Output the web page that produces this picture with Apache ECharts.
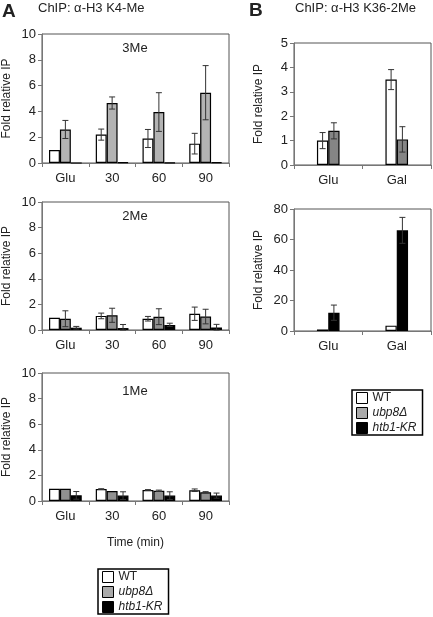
<!DOCTYPE html>
<html><head><meta charset="utf-8">
<script src="https://cdn.jsdelivr.net/npm/echarts@6/dist/echarts.min.js"></script>
<style>html,body{margin:0;padding:0;background:#fff}#c{width:433px;height:617px}</style>
</head><body><div id="c"></div>
<script>
// ---- data ----
const categoriesA = ['Glu', '30', '60', '90'];
const categoriesB = ['Glu', 'Gal'];
const seriesNames = ['WT', 'ubp8Δ', 'htb1-KR'];
const ticksA = [0, 2, 4, 6, 8, 10];
const ticksBTop = [0, 1, 2, 3, 4, 5];
const ticksBBottom = [0, 20, 40, 60, 80];

const me3WT = [1.0, 2.2, 1.9, 1.5];
const me3WTErr = [0, 0.43, 0.7, 0.8];
const me3Ubp8 = [2.6, 4.65, 3.95, 5.45];
const me3Ubp8Err = [0.7, 0.47, 1.5, 2.1];
const me3Htb1 = [0, 0.06, 0.03, 0.05];
const me3Htb1Err = [0, 0, 0, 0];

const me2WT = [0.95, 1.1, 0.88, 1.27];
const me2WTErr = [0, 0.22, 0.18, 0.52];
const me2Ubp8 = [0.88, 1.15, 1.04, 1.05];
const me2Ubp8Err = [0.62, 0.55, 0.62, 0.57];
const me2Htb1 = [0.18, 0.15, 0.4, 0.2];
const me2Htb1Err = [0.1, 0.28, 0.13, 0.24];

const me1WT = [0.96, 0.93, 0.86, 0.84];
const me1WTErr = [0, 0.03, 0.03, 0.1];
const me1Ubp8 = [0.95, 0.78, 0.8, 0.68];
const me1Ubp8Err = [0, 0, 0.05, 0.05];
const me1Htb1 = [0.44, 0.42, 0.42, 0.42];
const me1Htb1Err = [0.3, 0.3, 0.3, 0.2];

const k36WT = [1.0, 3.5];
const k36WTErr = [0.33, 0.41];
const k36Ubp8 = [1.4, 1.05];
const k36Ubp8Err = [0.33, 0.52];

const k36bWT = [1.0, 3.5];
const k36bWTErr = [0, 0];
const k36bHtb1 = [12, 66];
const k36bHtb1Err = [5, 8.5];

// ---- styles ----
const FONT = '"Liberation Sans", Arial, sans-serif';
const TXT = '#222';
const WHITE = '#ffffff', BLACK = '#000000';

const grids = [
  {left: 42, top: 34, width: 187, height: 129},
  {left: 42, top: 202, width: 187, height: 128},
  {left: 42, top: 373, width: 187, height: 128},
  {left: 294, top: 43, width: 137, height: 122},
  {left: 294, top: 209, width: 137, height: 122}
];

function xAxisFor(i, cats, extra) {
  return Object.assign({
    type: 'category', gridIndex: i, data: cats, boundaryGap: true,
    axisLine: {lineStyle: {color: '#777', width: 1}},
    axisTick: {show: true, length: 4, lineStyle: {color: '#777'}},
    axisLabel: {color: TXT, fontFamily: FONT, fontSize: 13, margin: 9}
  }, extra || {});
}
function yAxisFor(i, ticks) {
  return {
    type: 'value', gridIndex: i, min: ticks[0], max: ticks[ticks.length - 1],
    interval: ticks[1] - ticks[0],
    name: 'Fold relative IP', nameLocation: 'middle', nameGap: 29,
    nameTextStyle: {color: TXT, fontFamily: FONT, fontSize: 12},
    axisLine: {show: true, lineStyle: {color: '#777'}},
    axisTick: {show: true, length: 4, lineStyle: {color: '#777'}},
    splitLine: {show: false},
    axisLabel: {color: TXT, fontFamily: FONT, fontSize: 13, margin: 6}
  };
}

const series = [];
function addPanel(gi, gapFrac, defs) {
  const n = defs.length;
  defs.forEach((d, idx) => {
    series.push({
      type: 'bar', name: d.name, xAxisIndex: gi, yAxisIndex: gi, data: d.values,
      barGap: 0, barCategoryGap: (gapFrac * 100) + '%',
      itemStyle: {color: d.color, borderColor: '#000', borderWidth: 1.2},
      emphasis: {disabled: true}, silent: true, z: 2
    });
    series.push({
      type: 'custom', name: 'err', xAxisIndex: gi, yAxisIndex: gi, silent: true, z: 5,
      encode: {x: 0, y: 1},
      data: d.values.map((v, i) => [i, v, d.err[i]]),
      renderItem: function (params, api) {
        const ci = api.value(0), v = api.value(1), e = api.value(2);
        if (!e) return null;
        const c = api.coord([ci, v]);
        const band = api.size([1, 0])[0];
        const bw = band * (1 - gapFrac) / n;
        const x = c[0] + (idx - (n - 1) / 2) * bw;
        const yt = api.coord([ci, v + e])[1];
        const yb = api.coord([ci, Math.max(v - e, 0)])[1];
        const cap = 3;
        const st = {stroke: '#333', lineWidth: 1};
        return {type: 'group', children: [
          {type: 'line', shape: {x1: x, y1: yt, x2: x, y2: yb}, style: st},
          {type: 'line', shape: {x1: x - cap, y1: yt, x2: x + cap, y2: yt}, style: st},
          {type: 'line', shape: {x1: x - cap, y1: yb, x2: x + cap, y2: yb}, style: st}
        ]};
      }
    });
  });
}

const G3 = '#b3b3b3', G2 = '#919191', GB = '#858585', GL = '#aaaaaa';
addPanel(0, 0.3, [
  {name: seriesNames[0], values: me3WT, err: me3WTErr, color: WHITE},
  {name: seriesNames[1], values: me3Ubp8, err: me3Ubp8Err, color: G3},
  {name: seriesNames[2], values: me3Htb1, err: me3Htb1Err, color: BLACK}
]);
addPanel(1, 0.3, [
  {name: seriesNames[0], values: me2WT, err: me2WTErr, color: WHITE},
  {name: seriesNames[1], values: me2Ubp8, err: me2Ubp8Err, color: G2},
  {name: seriesNames[2], values: me2Htb1, err: me2Htb1Err, color: BLACK}
]);
addPanel(2, 0.3, [
  {name: seriesNames[0], values: me1WT, err: me1WTErr, color: WHITE},
  {name: seriesNames[1], values: me1Ubp8, err: me1Ubp8Err, color: G2},
  {name: seriesNames[2], values: me1Htb1, err: me1Htb1Err, color: BLACK}
]);
addPanel(3, 0.67, [
  {name: seriesNames[0], values: k36WT, err: k36WTErr, color: WHITE},
  {name: seriesNames[1], values: k36Ubp8, err: k36Ubp8Err, color: GB}
]);
addPanel(4, 0.67, [
  {name: seriesNames[0], values: k36bWT, err: k36bWTErr, color: WHITE},
  {name: seriesNames[2], values: k36bHtb1, err: k36bHtb1Err, color: BLACK}
]);

function legendAt(left, top) {
  return {
    orient: 'vertical', left: left, top: top, selectedMode: false,
    itemWidth: 11, itemHeight: 11, itemGap: 3,
    padding: [2, 6, 1, 4],
    borderColor: '#000', borderWidth: 1.5, borderRadius: 0,
    icon: 'rect',
    data: [
      {name: seriesNames[0], itemStyle: {color: WHITE, borderColor: '#000', borderWidth: 1}},
      {name: seriesNames[1], itemStyle: {color: GL, borderColor: '#000', borderWidth: 1}},
      {name: seriesNames[2], itemStyle: {color: BLACK, borderColor: '#000', borderWidth: 1}}
    ],
    formatter: n => n === 'WT' ? n : '{i|' + n + '}',
    textStyle: {color: TXT, fontFamily: FONT, fontSize: 12, lineHeight: 12,
      rich: {i: {fontStyle: 'italic', fontFamily: FONT, fontSize: 12, lineHeight: 12, color: TXT}}}
  };
}

function txt(text, x, y, size, weight, align) {
  return {type: 'text', x: x, y: y, silent: true,
    style: {text: text, fill: TXT, font: (weight || 'normal') + ' ' + size + 'px ' + FONT,
      textAlign: align || 'left', textVerticalAlign: 'middle'}};
}

const option = {
  animation: false,
  backgroundColor: '#fff',
  grid: grids.map(g => Object.assign({show: true, borderColor: '#555', borderWidth: 1, backgroundColor: 'transparent', containLabel: false}, g)),
  xAxis: [
    xAxisFor(0, categoriesA),
    xAxisFor(1, categoriesA),
    xAxisFor(2, categoriesA, {name: 'Time (min)', nameLocation: 'middle', nameGap: 36,
      nameTextStyle: {color: TXT, fontFamily: FONT, fontSize: 12}}),
    xAxisFor(3, categoriesB),
    xAxisFor(4, categoriesB)
  ],
  yAxis: [
    yAxisFor(0, ticksA), yAxisFor(1, ticksA), yAxisFor(2, ticksA),
    yAxisFor(3, ticksBTop), yAxisFor(4, ticksBBottom)
  ],
  legend: [legendAt(98, 569), legendAt(352, 390)],
  graphic: [
    txt('A', 2, 12, 19, 'bold'),
    txt('ChIP: α-H3 K4-Me', 38, 8, 13),
    txt('B', 249, 11, 19, 'bold'),
    txt('ChIP: α-H3 K36-2Me', 295, 8, 13),
    txt('3Me', 135, 48, 13, 'normal', 'center'),
    txt('2Me', 135, 216, 13, 'normal', 'center'),
    txt('1Me', 135, 391, 13, 'normal', 'center')
  ],
  series: series
};

const chart = echarts.init(document.getElementById('c'), null, {renderer: 'canvas'});
chart.setOption(option);
</script>
</body></html>
